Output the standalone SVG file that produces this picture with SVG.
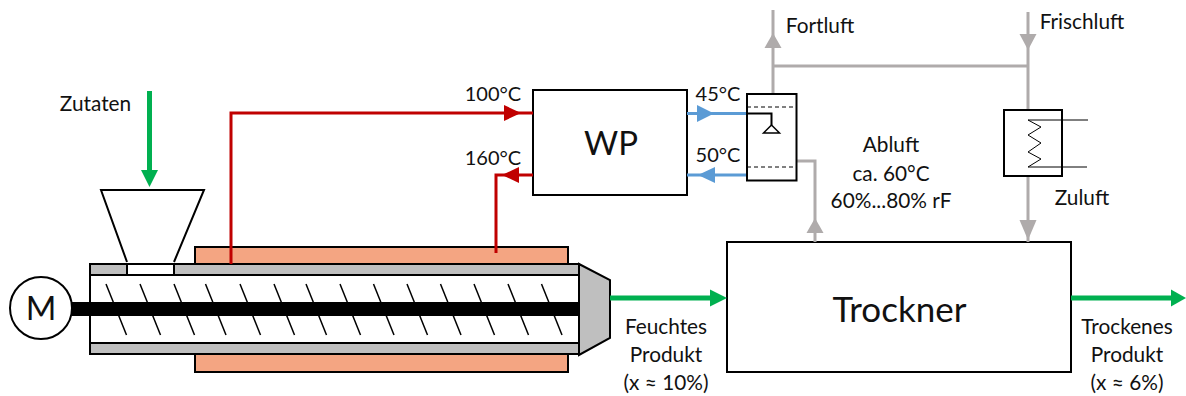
<svg xmlns="http://www.w3.org/2000/svg" width="1186" height="396" viewBox="0 0 1186 396">
<style>
text{font-family:"Lato","Liberation Sans",sans-serif;font-size:20.8px;fill:#111;text-anchor:middle}
.k{fill:none;stroke:#000;stroke-width:2}
.w{fill:#fff;stroke:#000;stroke-width:2}
.g{fill:#bfbfbf;stroke:#000;stroke-width:2}
.o{fill:#f4a582;stroke:#000;stroke-width:2}
.f{stroke:#000;stroke-width:1.5}
.d{stroke:#000;stroke-width:1;stroke-dasharray:4 3}
.red{fill:none;stroke:#c00000;stroke-width:3}
.blue{fill:none;stroke:#5b9bd5;stroke-width:3}
.gray{fill:none;stroke:#afabab;stroke-width:3}
.green{fill:none;stroke:#00b050;stroke-width:5}
.t{font-size:20px}
</style>
<defs>
<path id="flight" d="M0 0L20.500 51" class="f"/>
</defs>
<g id="heating-jacket">
<rect class="o" x="195" y="247" width="373" height="18"/>
<rect class="o" x="195" y="354" width="373" height="18"/>
</g>
<g id="extruder">
<rect class="w" x="90" y="264" width="489" height="90"/>
<rect class="g" x="90" y="264" width="489" height="11"/>
<rect class="g" x="90" y="343" width="489" height="11"/>
<rect class="w" x="127" y="264" width="47" height="11"/>
<polygon class="g" points="579,264 610,280 610,338 579,355"/>
<rect x="72" y="302" width="507" height="14" fill="#000"/>
<use href="#flight" x="106" y="284"/><use href="#flight" x="140" y="284"/><use href="#flight" x="174" y="284"/><use href="#flight" x="205.500" y="284"/><use href="#flight" x="240" y="284"/><use href="#flight" x="274" y="284"/><use href="#flight" x="306" y="284"/><use href="#flight" x="340" y="284"/><use href="#flight" x="373.500" y="284"/><use href="#flight" x="407" y="284"/><use href="#flight" x="440.500" y="284"/><use href="#flight" x="474" y="284"/><use href="#flight" x="508" y="284"/><use href="#flight" x="541.500" y="284"/>
</g>
<g id="hopper"><path class="k" d="M127 262L101 190H204L174 262"/></g>
<g id="motor"><circle class="w" cx="41" cy="308" r="31"/><text x="41" y="320" style="font-size:33px">M</text></g>
<g id="wp"><rect class="w" x="533" y="90" width="154" height="105"/><text x="611" y="155" style="font-size:33px">WP</text></g>
<g id="trockner"><rect class="w" x="727" y="242" width="344" height="130"/><text x="899.500" y="322" style="font-size:35px">Trockner</text></g>
<g id="connectors">
<path class="red" d="M231 264V113H533"/><polygon fill="#c00000" points="504,105 521,113 504,121"/>
<path class="red" d="M496 253V175H533"/><polygon fill="#c00000" points="519,167 502,175 519,183"/>
<path class="blue" d="M687 113.500H747"/><polygon fill="#5b9bd5" points="697,105 714,113.500 697,122"/>
<path class="blue" d="M687 175H747"/><polygon fill="#5b9bd5" points="715,167 698,175 715,183"/>
<path class="gray" d="M797 161H815V242"/><polygon fill="#afabab" points="806.500,233 815,218 823.500,233"/>
<path class="gray" d="M773 10V94"/><polygon fill="#afabab" points="764.500,48 773,33 781.500,48"/>
<path class="gray" d="M773 66H1028"/>
<path class="gray" d="M1028 12V242"/><polygon fill="#afabab" points="1019.500,34 1036.500,34 1028,50"/><polygon fill="#afabab" points="1019.500,220 1036.500,220 1028,240"/>
<path class="green" d="M149.500 91V172"/><polygon fill="#00b050" points="141,170 158,170 149.500,187"/>
<path class="green" d="M610 298H712"/><polygon fill="#00b050" points="710,289.500 727,298 710,306.500"/>
<path class="green" d="M1071 298H1173"/><polygon fill="#00b050" points="1171,289.500 1186,298 1171,306.500"/>
</g>
<g id="scrubber">
<rect class="w" x="747" y="94" width="49.500" height="86.500"/>
<path class="d" d="M747 107H796M747 167H796"/>
<path class="k" d="M747 113.500H771.500V125"/>
<polygon class="w" style="stroke-width:1.500" points="771.500,125 763.500,133 779.500,133"/>
</g>
<g id="heater">
<rect class="w" x="1004" y="110" width="58" height="66"/>
<path fill="none" stroke="#000" stroke-width="1" d="M1088 120H1028L1041 127L1028 135L1041 143L1028 152L1041 159L1028 167H1087"/>
</g>
<g id="labels">
<text x="95.500" y="111">Zutaten</text>
<text class="t" x="493" y="101">100°C</text>
<text class="t" x="493" y="165">160°C</text>
<text class="t" x="718" y="101">45°C</text>
<text class="t" x="718" y="162">50°C</text>
<text x="820" y="33">Fortluft</text>
<text x="1082" y="29">Frischluft</text>
<text x="1082" y="205">Zuluft</text>
<text x="891" y="152">Abluft</text>
<text x="891" y="181">ca. 60°C</text>
<text x="891" y="208">60%...80% rF</text>
<text x="666" y="334">Feuchtes</text>
<text x="666" y="362">Produkt</text>
<text x="666" y="390">(x ≈ 10%)</text>
<text x="1127" y="334">Trockenes</text>
<text x="1127" y="362">Produkt</text>
<text x="1127" y="390">(x ≈ 6%)</text>
</g>
</svg>
